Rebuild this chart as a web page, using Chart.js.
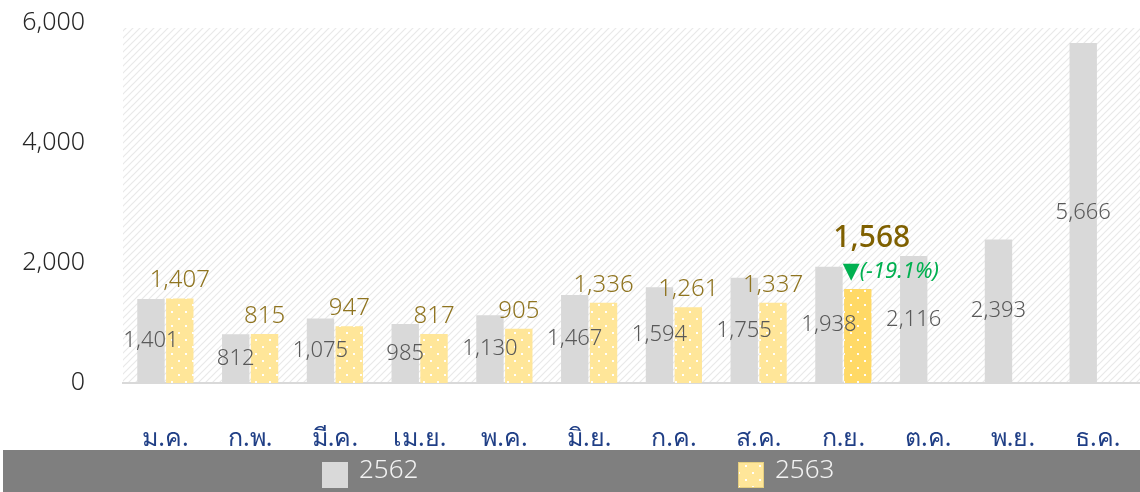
<!DOCTYPE html>
<html>
<head>
<meta charset="utf-8">
<script src="https://cdn.jsdelivr.net/npm/chart.js@4.4.1/dist/chart.umd.min.js"></script>
<style>
  html, body { margin: 0; padding: 0; background: #fff; }
  #wrap { width: 1140px; height: 492px; position: relative; }
</style>
</head>
<body>
<div id="wrap"><canvas id="myChart" width="1140" height="492"></canvas></div>
<script>
// data
var months = ['ม.ค.', 'ก.พ.', 'มี.ค.', 'เม.ย.', 'พ.ค.', 'มิ.ย.', 'ก.ค.', 'ส.ค.', 'ก.ย.', 'ต.ค.', 'พ.ย.', 'ธ.ค.'];
var seriesNames = ['2562', '2563'];
var values2562 = [1401, 812, 1075, 985, 1130, 1467, 1594, 1755, 1938, 2116, 2393, 5666];
var values2563 = [1407, 815, 947, 817, 905, 1336, 1261, 1337, 1568, null, null, null];
var yTicks = [0, 2000, 4000, 6000];
var latestIndex = 8;
var latestChange = '(−19.1%)';

var FONT = "'Noto Sans', 'DejaVu Sans', sans-serif";

// patterns
function hatchPattern() {
	var c = document.createElement('canvas');
	c.width = 7; c.height = 7;
	var g = c.getContext('2d');
	g.fillStyle = '#ffffff';
	g.fillRect(0, 0, 7, 7);
	g.strokeStyle = '#e9e9e9';
	g.lineWidth = 1.2;
	g.beginPath();
	g.moveTo(-1, 8); g.lineTo(8, -1);
	g.moveTo(-4, 4); g.lineTo(4, -4);
	g.moveTo(3, 11); g.lineTo(11, 3);
	g.stroke();
	return g.createPattern(c, 'repeat');
}

function dotPattern(color) {
	var c = document.createElement('canvas');
	c.width = 14; c.height = 14;
	var g = c.getContext('2d');
	g.fillStyle = color;
	g.fillRect(0, 0, 14, 14);
	g.fillStyle = 'rgba(255,255,255,0.95)';
	g.fillRect(3, 3, 2, 2);
	g.fillRect(10, 10, 2, 2);
	return g.createPattern(c, 'repeat');
}

var ctx = document.getElementById('myChart').getContext('2d');
var lightGold = dotPattern('#ffe699');
var darkGold = dotPattern('#ffd966');
var goldColors = values2563.map(function (v, i) { return i === latestIndex ? darkGold : lightGold; });

var bgPlugin = {
	id: 'hatchBg',
	beforeDraw: function (chart) {
		var a = chart.chartArea, c = chart.ctx;
		c.save();
		c.fillStyle = hatchPattern();
		c.fillRect(a.left, a.top + 5, a.right - a.left, a.bottom - a.top - 5);
		c.restore();
	}
};

var labelPlugin = {
	id: 'barLabels',
	afterDatasetsDraw: function (chart) {
		var c = chart.ctx;
		c.save();
		c.textAlign = 'center';
		c.textBaseline = 'middle';
		// 2562 labels in the middle of the grey bars
		var m0 = chart.getDatasetMeta(0);
		c.fillStyle = '#595959';
		c.font = '300 22px ' + FONT;
		m0.data.forEach(function (bar, i) {
			var v = values2562[i];
			c.fillText(v.toLocaleString('en-US'), bar.x, (bar.y + bar.base) / 2);
		});
		// 2563 labels above the gold bars
		var m1 = chart.getDatasetMeta(1);
		m1.data.forEach(function (bar, i) {
			var v = values2563[i];
			if (v === null) return;
			if (i === latestIndex) {
				c.fillStyle = '#7f6000';
				c.font = '500 30px ' + FONT;
				c.fillText(v.toLocaleString('en-US'), bar.x + 14, bar.y - 50);
				c.fillStyle = '#00b050';
				c.font = 'italic 22px ' + FONT;
				c.textAlign = 'left';
				c.fillText('▼' + latestChange, bar.x - 15, bar.y - 17);
				c.textAlign = 'center';
			} else {
				c.fillStyle = '#8f7420';
				c.font = '300 24px ' + FONT;
				c.fillText(v.toLocaleString('en-US'), bar.x, bar.y - 18);
			}
		});
		c.restore();
	}
};

var legendPlugin = {
	id: 'bandLegend',
	afterDraw: function (chart) {
		var c = chart.ctx;
		c.save();
		c.fillStyle = '#7f7f7f';
		c.fillRect(3, 450, 1137, 42);
		var items = [
			{ x: 322, fill: '#d9d9d9', border: '#d9d9d9', text: seriesNames[0] },
			{ x: 738, fill: lightGold, border: '#e6cf80', text: seriesNames[1] }
		];
		items.forEach(function (it) {
			c.fillStyle = it.fill;
			c.fillRect(it.x, 462, 26, 26);
			c.strokeStyle = it.border;
			c.lineWidth = 1;
			c.strokeRect(it.x + 0.5, 462.5, 25, 25);
			c.fillStyle = '#f2f2f2';
			c.font = '300 26px ' + FONT;
			c.textAlign = 'left';
			c.textBaseline = 'middle';
			c.fillText(it.text, it.x + 37, 471);
		});
		c.restore();
	}
};

var chartdata = {
	labels: months,
	datasets: [{
		label: seriesNames[0],
		data: values2562,
		backgroundColor: '#d9d9d9',
		categoryPercentage: 0.68,
		barPercentage: 0.95
	}, {
		label: seriesNames[1],
		data: values2563,
		backgroundColor: goldColors,
		categoryPercentage: 0.68,
		barPercentage: 0.95
	}]
};

var barGraph = new Chart(ctx, {
	type: 'bar',
	data: chartdata,
	plugins: [bgPlugin, labelPlugin, legendPlugin],
	options: {
		responsive: false,
		animation: false,
		layout: { padding: 0 },
		plugins: {
			legend: { display: false },
			tooltip: { enabled: false }
		},
		scales: {
			x: {
				afterFit: function (scale) {
					scale.height = 109;
					scale.paddingLeft = 0;
					scale.paddingRight = 0;
				},
				grid: { display: false, drawTicks: false },
				border: { color: '#d9d9d9', width: 2 },
				ticks: {
					color: '#203f86',
					padding: 41,
					font: { family: FONT, size: 25 }
				}
			},
			y: {
				min: 0,
				max: 6000,
				afterFit: function (scale) {
					scale.width = 123;
					// tick padding is only wanted sideways, not on top
					scale.paddingTop = 23;
					scale.paddingBottom = 0;
				},
				afterBuildTicks: function (scale) {
					scale.ticks = yTicks.map(function (v) { return { value: v }; });
				},
				grid: { display: false, drawTicks: false },
				border: { display: false },
				ticks: {
					color: '#262626',
					padding: 38,
					font: { family: FONT, size: 25, weight: '300' },
					callback: function (v) { return v.toLocaleString('en-US'); }
				}
			}
		}
	}
});
</script>
</body>
</html>
